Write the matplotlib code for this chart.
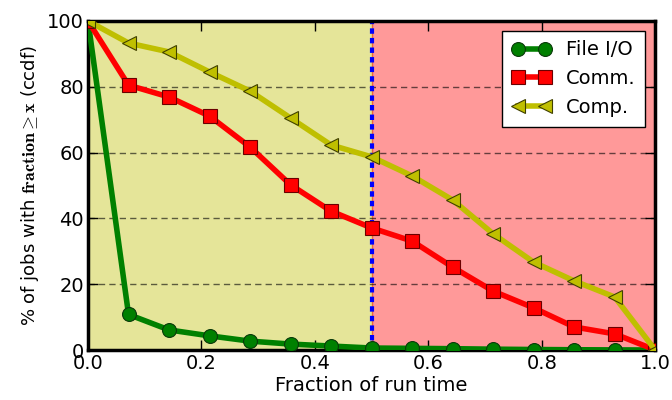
import matplotlib
matplotlib.use("Agg")
import matplotlib.pyplot as plt

plt.rcParams['mathtext.fontset'] = 'cm'
plt.rcParams['font.family'] = ['DejaVu Sans']

fractions = [i / 14 for i in range(15)]
file_io = [100, 10.8, 6.1, 4.3, 2.7, 1.8, 1.2, 0.6, 0.5, 0.4, 0.25, 0.15, 0.08, 0.03, 0]
comm = [100, 80.5, 76.9, 71.1, 61.7, 50.2, 42.2, 37.1, 33.1, 25.2, 17.9, 12.8, 7.0, 4.9, 0]
comp = [100, 93.3, 90.6, 84.5, 78.7, 70.5, 62.3, 58.7, 52.9, 45.6, 35.3, 26.7, 21.0, 16.1, 0]

fig = plt.figure(figsize=(6.72, 4.0), dpi=100)
ax = fig.add_axes([0.131, 0.125, 0.844, 0.8225])

ax.axvspan(0, 0.5, color='y', alpha=0.4, lw=1)
ax.axvspan(0.5, 1.0, color='r', alpha=0.4, lw=1)
ax.axvline(0.5, color='b', ls=(0, (1.3, 1.0)), lw=3, zorder=2)

for y in [20, 40, 60, 80]:
    ax.axhline(y, color='k', ls=(0, (4.5, 3)), lw=1, alpha=0.6, zorder=1)

ax.plot(fractions, file_io, color='g', marker='o', lw=4, ms=10,
        mec='#0a3a0a', mew=0.8, label='File I/O', zorder=3)
ax.plot(fractions, comm, color='r', marker='s', lw=4, ms=10,
        mec='#6a0000', mew=0.8, label='Comm.', zorder=3)
ax.plot(fractions, comp, color='y', marker='<', lw=4, ms=10,
        mec='#404000', mew=0.8, label='Comp.', zorder=3)

ax.set_xlim(0, 1)
ax.set_ylim(0, 100)
ax.set_xticks([0.0, 0.2, 0.4, 0.6, 0.8, 1.0])
ax.set_yticks([0, 20, 40, 60, 80, 100])
ax.tick_params(direction='in', top=True, right=True, length=7, width=1,
               labelsize=14, pad=3)
for s in ax.spines.values():
    s.set_linewidth(2.5)

ax.set_xlabel('Fraction of run time', fontsize=14, labelpad=2)
ax.set_ylabel(r'% of jobs with $\mathbf{fraction} \geq \mathbf{x}$ (ccdf)', fontsize=13)

leg = ax.legend(loc='upper right', numpoints=2, fontsize=14, fancybox=False,
                framealpha=1, edgecolor='k', borderaxespad=0.5,
                borderpad=0.5, labelspacing=0.5, handletextpad=0.8)
leg.get_frame().set_linewidth(1)

fig.savefig('out.png', dpi=100)
